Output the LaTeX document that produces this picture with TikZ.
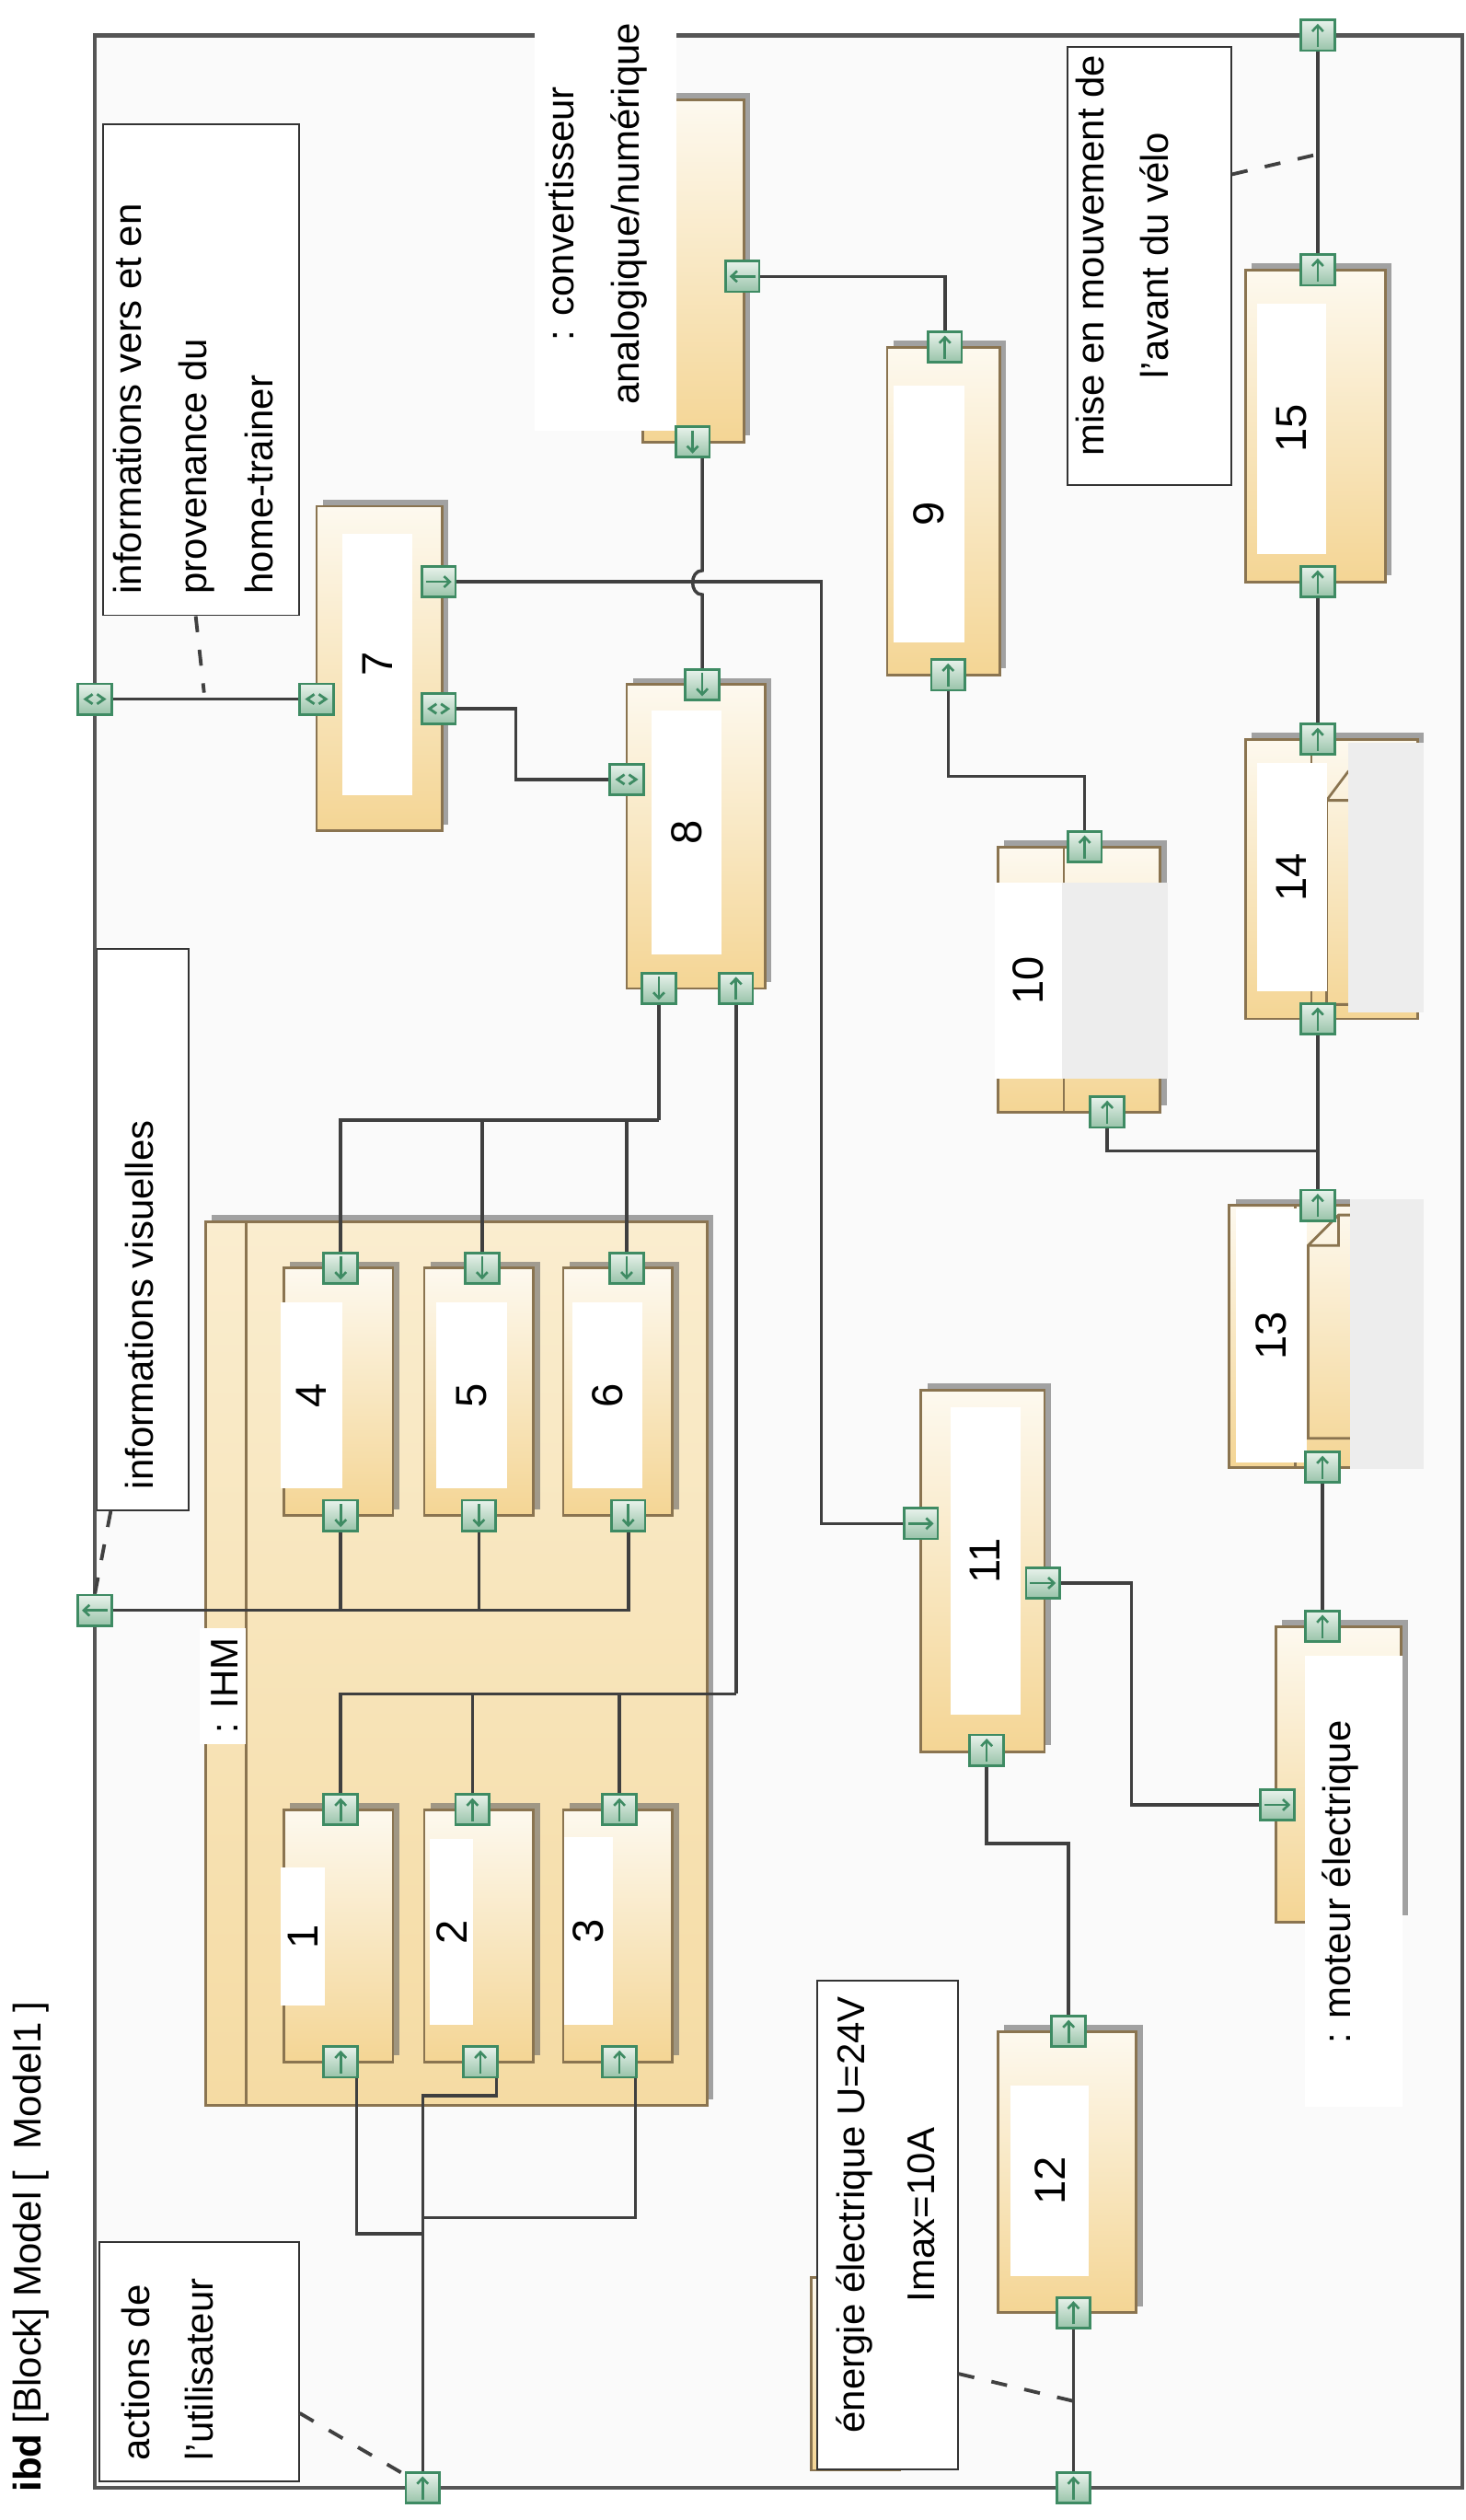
\documentclass[tikz,border=0pt]{standalone}
\usepackage{fontspec}
\setmainfont{Liberation Sans}
\usepackage{tikz}
\usetikzlibrary{positioning,calc,shadows,arrows.meta}

\definecolor{blocktop}{HTML}{FDF9EF}
\definecolor{blockbot}{HTML}{F4D594}
\definecolor{ihmtop}{HTML}{FAEDCF}
\definecolor{ihmbot}{HTML}{F5DBA3}
\definecolor{blockedge}{HTML}{8A7450}
\definecolor{portgreen}{HTML}{3E8B63}
\definecolor{portlight}{HTML}{E8F2EB}
\definecolor{portdark}{HTML}{98C3A9}
\definecolor{wirecol}{HTML}{3F3F3F}
\definecolor{framecol}{HTML}{555555}
\definecolor{paper}{HTML}{FAFAFA}
\definecolor{maskgrey}{HTML}{EDEDED}

\pgfdeclarelayer{ports}
\pgfsetlayers{main,ports}

\begin{document}
\begin{tikzpicture}[
    x=0.5pt, y=-0.5pt,
    block/.style={draw=blockedge, line width=0.8pt, top color=blocktop, bottom color=blockbot, inner sep=0,
        drop shadow={shadow xshift=2pt, shadow yshift=2pt, fill=black!60, opacity=0.6}},
    ihmbox/.style={block, top color=ihmtop, bottom color=ihmbot},
    port/.style={draw=portgreen, line width=0.8pt, top color=portlight, bottom color=portdark, minimum width=10.5pt, minimum height=9.5pt, inner sep=0},
    parrow/.style={portgreen, line width=0.75pt, -{Straight Barb[length=1.8pt, width=3.4pt]}},
    pU/.style={port, path picture={\draw[parrow] ([yshift=-3.6pt]path picture bounding box.center) -- ([yshift=3.6pt]path picture bounding box.center);}},
    pD/.style={port, path picture={\draw[parrow] ([yshift=3.6pt]path picture bounding box.center) -- ([yshift=-3.6pt]path picture bounding box.center);}},
    pR/.style={port, path picture={\draw[parrow] ([xshift=-4pt]path picture bounding box.center) -- ([xshift=4pt]path picture bounding box.center);}},
    pL/.style={port, path picture={\draw[parrow] ([xshift=4pt]path picture bounding box.center) -- ([xshift=-4pt]path picture bounding box.center);}},
    pB/.style={port, path picture={\draw[portgreen, line width=0.8pt]
        ([xshift=-0.7pt, yshift=1.5pt]path picture bounding box.center) -- ++(-2.2pt,-1.5pt) -- ++(2.2pt,-1.5pt)
        ([xshift=0.7pt, yshift=1.5pt]path picture bounding box.center) -- ++(2.2pt,-1.5pt) -- ++(-2.2pt,-1.5pt);}},
    wire/.style={draw=wirecol, line width=1pt},
    dashline/.style={draw=black!75, line width=1.1pt, dash pattern=on 5pt off 5.5pt},
    numlbl/.style={fill=white, inner sep=0, rotate=90, font=\fontsize{13.5}{16}\selectfont},
    comment/.style={draw=black!80, line width=0.5pt, fill=white, inner sep=0},
    note/.style={rotate=90, inner sep=0, font=\fontsize{12}{20.5}\selectfont},
    innerline/.style={draw=blockedge, line width=0.8pt}
]
    % page and frame
    \fill[white] (0,0) rectangle (912,1568);
    \fill[paper] (59,22) rectangle (910,1548);
    \draw[framecol, line width=1.3pt] (59,22) rectangle (910,1548);
    \node[anchor=west, rotate=90, inner sep=0, font=\fontsize{12}{14}\selectfont] (title) at (19,1551) {\textbf{ibd} [Block] Model [\ \ Model1 ]};

    % IHM and its parts
    \node[ihmbox, minimum width=156pt, minimum height=275pt] (ihm) at (284,1035) {};
    \draw[innerline] (153,760) -- (153,1310);
    \foreach \n/\x in {4/210.5,5/298,6/384.5} {
        \node[block, minimum width=34pt, minimum height=77pt] (b\n) at (\x,866) {};
    }
    \foreach \n/\x in {1/210.5,2/298,3/384.5} {
        \node[block, minimum width=34pt, minimum height=78.5pt] (b\n) at (\x,1204.5) {};
    }

    % other blocks
    \node[block, minimum width=31.5pt, minimum height=106.5pt] (bconv) at (431.5,168.5) {};
    \node[block, minimum width=39pt, minimum height=101pt] (b7) at (236,416) {};
    \node[block, minimum width=43pt, minimum height=94.5pt] (b8) at (433,520.5) {};
    \node[block, minimum width=35pt, minimum height=102pt] (b9) at (587,318) {};
    \node[block, minimum width=50.5pt, minimum height=82.5pt] (b10) at (671.5,609.5) {};
    \node[block, minimum width=38.5pt, minimum height=112.5pt] (b11) at (611.5,977.5) {};
    \node[block, minimum width=43pt, minimum height=87.5pt] (b12) at (664,1351.5) {};
    \node[block, minimum width=58.5pt, minimum height=81.5pt] (b13) at (823.5,831.5) {};
    \node[block, minimum width=53.5pt, minimum height=87pt] (b14) at (828.5,547) {};
    \node[block, minimum width=43.5pt, minimum height=97pt] (b15) at (818.5,265) {};
    \node[block, minimum width=39pt, minimum height=92pt] (bmot) at (833,1104) {};
    \node[block, minimum width=27.5pt, minimum height=60pt] (balim) at (532.5,1477) {};

    % inner compartments
    \draw[innerline] (662,527) -- (662,692);
    \draw[innerline] (806,750) -- (806,913);
    \draw[innerline] (845,895) -- (814,895) -- (814,775) -- (833,756) -- (845,756)
        (814,775) -- (833,775) -- (833,756);
    \draw[innerline] (816,460) -- (816,634);
    \draw[innerline] (845,625) -- (825.5,625) -- (825.5,498) -- (839,480) -- (845,480)
        (825.5,498) -- (839,498);

    % hidden names
    \node[numlbl, minimum width=43pt, minimum height=13.7pt] (l1) at (188.3,1205) {1};
    \node[numlbl, minimum width=58pt, minimum height=13.5pt] (l2) at (281,1202) {2};
    \node[numlbl, minimum width=58.5pt, minimum height=15.3pt] (l3) at (366.3,1201.5) {3};
    \node[numlbl, minimum width=57.8pt, minimum height=19.1pt] (l4) at (193.7,868.3) {4};
    \node[numlbl, minimum width=57.8pt, minimum height=22pt] (l5) at (293.6,868.3) {5};
    \node[numlbl, minimum width=57.8pt, minimum height=22pt] (l6) at (378,868.3) {6};
    \node[numlbl, minimum width=81.4pt, minimum height=21.8pt] (l7) at (234.8,413.4) {7};
    \node[numlbl, minimum width=76pt, minimum height=21.7pt] (l8) at (427.3,518) {8};
    \node[numlbl, minimum width=80pt, minimum height=22pt] (l9) at (578,320) {9};
    \node[numlbl, minimum width=61pt, minimum height=21pt] (l10) at (640,610) {10};
    \node[numlbl, minimum width=95.7pt, minimum height=21.7pt] (l11) at (613.2,971.3) {11};
    \node[numlbl, minimum width=59.2pt, minimum height=24.5pt] (l12) at (653.2,1356.8) {12};
    \node[numlbl, minimum width=79pt, minimum height=22pt] (l13) at (791,831) {13};
    \node[numlbl, minimum width=70.8pt, minimum height=21.8pt] (l14) at (803.8,545.8) {14};
    \node[numlbl, minimum width=77.9pt, minimum height=21.5pt] (l15) at (803.5,266.6) {15};
    \fill[maskgrey] (661,549) rectangle (727,671);
    \fill[maskgrey] (840,746) rectangle (886,914);
    \fill[maskgrey] (839,462) rectangle (886,630);

    % part names
    \fill[white] (333,0) rectangle (421,268);
    \node[note, anchor=north, align=center] (tconv) at (339,133) {: convertisseur\\analogique/numérique};
    \fill[white] (812,1030) rectangle (873,1311);
    \node[note, anchor=west] (tmot) at (834,1272) {: moteur électrique};
    \fill[white] (124,1013) rectangle (153,1085);
    \node[note] (tihm) at (140,1049) {: IHM};

    % ports
    \begin{pgfonlayer}{ports}
        \node[pB] (fpA) at (59,435) {};
        \node[pL] (fpV) at (59,1002) {};
        \node[pU] (fpU) at (263,1548) {};
        \node[pU] (fpE) at (668,1548) {};
        \node[pU] (fpM) at (820,22) {};
        \node[pB] (p7l) at (197,435) {};
        \node[pR] (p7r) at (273,362) {};
        \node[pB] (p7b) at (273,441) {};
        \node[pL] (pcvR) at (462,172) {};
        \node[pD] (pcvB) at (431,275) {};
        \node[pD] (p8t) at (437,426) {};
        \node[pB] (p8l) at (390,485) {};
        \node[pD] (p8d) at (410,615) {};
        \node[pU] (p8u) at (458,615) {};
        \node[pU] (p9t) at (588,216) {};
        \node[pU] (p9b) at (590,420) {};
        \node[pU] (p10t) at (675,527) {};
        \node[pU] (p10b) at (689,692) {};
        \node[pR] (p11l) at (573,948) {};
        \node[pR] (p11r) at (649,985) {};
        \node[pU] (p11b) at (614,1089) {};
        \node[pU] (p12t) at (665,1264) {};
        \node[pU] (p12b) at (668,1439) {};
        \node[pU] (p13t) at (820,750) {};
        \node[pU] (p13b) at (823,913) {};
        \node[pU] (p14t) at (820,460) {};
        \node[pU] (p14b) at (820,634) {};
        \node[pU] (p15t) at (820,168) {};
        \node[pU] (p15b) at (820,362) {};
        \node[pU] (pmT) at (823,1012) {};
        \node[pR] (pmL) at (795,1123) {};
        \foreach \n/\x/\y in {4/212/212,5/300/298,6/390/391} {
            \node[pD] (pt\n) at (\x,789) {};
            \node[pD] (pb\n) at (\y,943) {};
        }
        \foreach \n/\x/\y in {1/212/212,2/294/299,3/385.5/385.5} {
            \node[pU] (pt\n) at (\x,1126) {};
            \node[pU] (pb\n) at (\y,1283) {};
        }
    \end{pgfonlayer}

    % connectors
    \draw[wire] (fpA) -- (p7l);
    \draw[wire] (p7b) -| (321,463) |- (p8l);
    \draw[wire] (p7r) -| (511,650) |- (p11l);
    \draw[wire] (pcvB.south -| p8t) -- (437,355) .. controls (429,355) and (429,370) .. (437,370) -- (p8t);
    \draw[wire] (pcvR) -| (p9t);
    \draw[wire] (p9b) -- (590,483) -| (p10t);
    \coordinate (j14) at (820,716);
    \draw[wire] (p10b) |- (j14);
    \draw[wire] (fpM) -- (p15t);
    \draw[wire] (p15b) -- (p14t);
    \draw[wire] (p14b) -- (p13t);
    \draw[wire] (p13b) -- (pmT);
    \draw[wire] (p11r) -| (704,1050) |- (pmL);
    \draw[wire] (p11b) -- (614,1147) -| (p12t);
    \draw[wire] (p12b) -- (fpE);

    % IHM buses
    \coordinate (bus1) at (410,697);
    \coordinate (bus3) at (458,1054);
    \draw[wire] (p8d) -- (bus1);
    \foreach \n in {4,5,6} \draw[wire] (bus1) -| (pt\n);
    \draw[wire] (pb6) |- (fpV);
    \draw[wire] (pb5) -- (pb5 |- fpV);
    \draw[wire] (pb4) -- (pb4 |- fpV);
    \draw[wire] (p8u) -- (bus3);
    \foreach \n in {1,2,3} \draw[wire] (bus3) -| (pt\n);
    \coordinate (j1) at (263,1390);
    \coordinate (j2) at (263,1304);
    \coordinate (j3) at (263,1380);
    \draw[wire] ([xshift=5pt]pb1.south) |- (j1);
    \draw[wire] ([xshift=5pt]pb3.south) |- (j3);
    \draw[wire] ([xshift=5pt]pb2.south) |- (j2) -- (fpU);

    % comments
    \node[comment, minimum width=61pt, minimum height=152.7pt] (cinfo) at (125,230.2) {};
    \node[note, anchor=north west, align=left] (tinfo) at (70,370) {informations vers et en\\provenance du\\home-trainer};
    \node[comment, minimum width=28.6pt, minimum height=174.6pt] (cvis) at (89,765.2) {};
    \node[note, anchor=west] (tvis) at (87,927) {informations visuelles};
    \node[comment, minimum width=62pt, minimum height=74.5pt] (cact) at (124,1469.5) {};
    \node[note, anchor=north west, align=left, font=\fontsize{12}{19.75}\selectfont] (tact) at (75,1531.5) {actions de\\l’utilisateur};
    \node[comment, minimum width=43.7pt, minimum height=152pt] (cener) at (552.3,1384.6) {};
    \node[note, anchor=north, align=center, font=\fontsize{12}{21.8}\selectfont] (tener) at (520,1378) {énergie électrique U=24V\\Imax=10A};
    \node[comment, minimum width=50.8pt, minimum height=136.5pt] (cmise) at (715.3,165.5) {};
    \node[note, anchor=north, align=center, font=\fontsize{12}{20.25}\selectfont] (tmise) at (669,159) {mise en mouvement de\\l’avant du vélo};

    % comment anchors
    \coordinate (ainfo) at (127,431);
    \coordinate (avis) at (59,992);
    \coordinate (aact) at (254,1541);
    \coordinate (aener) at (668,1494);
    \coordinate (amise) at (820,96);
    \draw[dashline] ([xshift=-1.6pt]cinfo.south) -- (ainfo);
    \draw[dashline] ([xshift=4.5pt]cvis.south west) -- (avis);
    \draw[dashline] ([yshift=-16pt]cact.east) -- (aact);
    \draw[dashline] ([yshift=-46.2pt]cener.east) -- (aener);
    \draw[dashline] ([yshift=28.5pt]cmise.east) -- (amise);

    \useasboundingbox (0,0) rectangle (912,1568);
\end{tikzpicture}
\end{document}
